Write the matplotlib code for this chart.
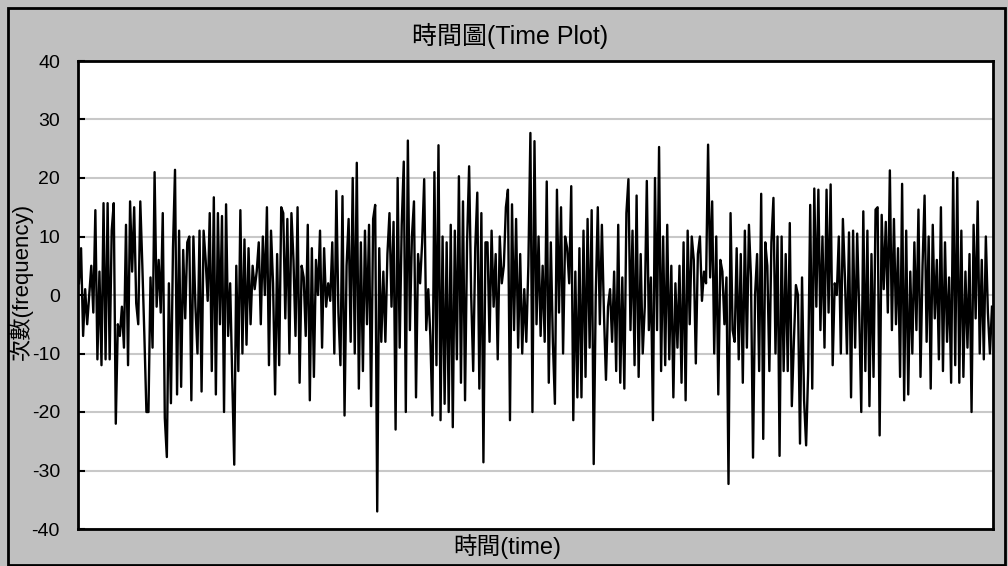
import numpy as np
import matplotlib
matplotlib.use('Agg')
import matplotlib.pyplot as plt
from matplotlib.patches import Rectangle

# values, segment by segment (left to right)
seg1 = [2, 8, -7, 1, -5, 0, 5, -3, 14.5, -11,
        4, -12, 15.7, -11, 15.7, -11, 11, 15.7, -22, -5,
        -7, -2, -9, 12, -12, 16, 4, 15, -1.4, -5,
        16, 5, -7, -20, -20, 3, -9, 21, -2, 6,
        -3, 14, -21, -27.7, 2, -18.5, 8, 21.4, -17, 11]
seg2 = [-15.7, 7.7, -4, 9, 10, -18, 10, -2, -10, 11,
        -16.5, 11, 6, -1, 14, -13, 16.7, -17, 14, -5,
        13.5, -20, 15.5, -7, 2, -14, -29, 5, -13, 14.5,
        -10, 9.5, -8.5, 8, -5, 5, 1, 4, 9, -5,
        10, 0, 15, -12, 11, 2, -17, 7, -12, 15]
seg3 = [14, -4, 13, -10, 14, 6, -7, 15, -15, 5,
        3, -7, 12, -18, 8, -14, 6, 0, 11, -9,
        8, -2, 2, -1, 9, -10, 17.8, -3, -12, 16.9,
        -20.6, 5, 13, -8, 20, -10, 22.6, -16, 9, -13,
        11, -5, 12, -19, 13, 15.4, -37, 8, -8, 4]
seg4 = [-8, 7, 14, -2, 12.5, -23, 20, -9, 12, 22.8,
        -20, 26.4, -6, 10, 16, -17.5, 7, 2, 9, 19.8,
        -6, 1, -7, -20.6, 21, -12, 25.6, -21.4, 10, -18.6,
        9, -20, 12, -22.6, 11, -11, 20.3, -15, 16, -18,
        9, 22, 0, -13, 8, 17.5, -16, 14, -28.6, 9]
seg5 = [9, -8, 11, -2, 7, -11, 10, 2, 5, 15,
        18, -21.4, 15.5, -6, 13, -9, 7, -10, 1, -8,
        5, 27.7, -20, 26.3, -5, 10, -7, 5, -8, 19.4,
        -15, 9, -8, -18.6, 18, -3, 15, -10, 10, 8,
        2, 18.6, -21.4, 4, -17.5, 8, -17.5, 11, -14, 13]
seg6 = [-9, 14.5, -28.9, 0, 15, -5, 12, -3, -14.5, -2,
        1, -8, 4, -13, 12, -15, 3, -16, 14, 19.8,
        -6, 11, -12, 17, -14, 7, -10, -2, 19.5, -6,
        3, -21.4, 20, -6, 25.3, -13, 10, -12, 12, -11,
        5, -17.5, 2, -9, 5, -15, 9, -18, 11, -5]
seg7 = [10, 6, -11.7, 7, 10, -1, 4, 2, 25.7, 3,
        16, -10, 10, -17, 6, 4, -5, 3, -32.3, 14,
        -6, -8, 8, -11, 7, -15, 11, -9, 12, 3,
        -27.8, 0, 7, -13, 17.3, -24.6, 9, 5, -13, 9,
        16.6, -10, 10, -27.5, 10, -13, 7, -13, 12.3, -19]
seg8 = [-8, 1.7, 0, -25.4, 3, -18, -25.7, -13, 15.4, -16,
        18.2, -2, 18, -6, 10, -9, 18, -3, 18.9, -12,
        2, 0, 10, -10, 13, 3, -10, 10.7, -17.5, 11,
        -9, 10.5, -3, -20, 14.3, -13, 11, -19, 7, -14,
        14.6, 15, -24, 13.7, 1, 12.5, -3, 21.3, -6, 13]
seg9 = [-5, 8, -14, 19, -18, 11, -17, 4, -10, 9,
        -6, 14.6, -14, 5, 17, -8, 10, -16, 12, -4,
        6, -11, 15, -13, 9, -8, 3, -15, 21, -12,
        20, -15, 11, -14, 4, -9, 7, -20, 12, -4,
        16, -10, 6, -11, 10, -3, -10, -2]

values = seg1 + seg2 + seg3 + seg4 + seg5 + seg6 + seg7 + seg8 + seg9
y_ticks = [-40, -30, -20, -10, 0, 10, 20, 30, 40]

plt.rcParams['font.family'] = ['Liberation Sans', 'Noto Sans CJK TC']
plt.rcParams['axes.unicode_minus'] = False

W, H = 1008, 566
fig = plt.figure(figsize=(W / 100, H / 100), dpi=100)
fig.patch.set_facecolor('#C0C0C0')
fig.patches.append(Rectangle((8 / W, 1 / H), 997 / W, 557 / H, transform=fig.transFigure,
                             fill=False, edgecolor='black', linewidth=2))

ax = fig.add_axes([78 / W, 1 - 529 / H, 915 / W, 468 / H])
ax.set_facecolor('white')
x = np.arange(len(values))
ax.plot(x, values, color='black', linewidth=1.7)
ax.set_xlim(-0.5, len(values) - 0.5)
ax.set_ylim(-40, 40)
ax.set_yticks(y_ticks)
ax.set_xticks([])
ax.grid(axis='y', color='#C8C8C8', linewidth=1.5)
ax.set_axisbelow(True)
for s in ax.spines.values():
    s.set_linewidth(2)
ax.tick_params(axis='y', direction='in', length=5, width=1.5, labelsize=14, pad=13)

fig.text(510 / W, 1 - 36 / H, '時間圖(Time Plot)', ha='center', va='center', fontsize=18)
fig.text(507 / W, 1 - 547 / H, '時間(time)', ha='center', va='center', fontsize=17)
fig.text(21 / W, 1 - 281 / H, '次數(frequency)', ha='center', va='center', fontsize=16,
         rotation=90)

fig.savefig('out.png', dpi=100, facecolor=fig.get_facecolor())
